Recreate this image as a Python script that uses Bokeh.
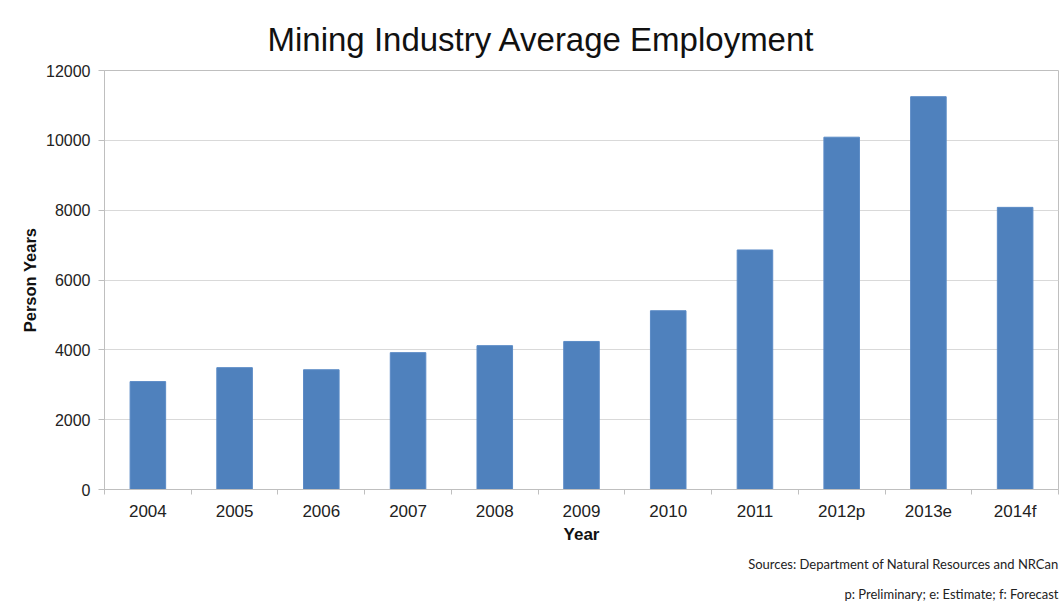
from bokeh.plotting import figure
from bokeh.models import Range1d, FixedTicker, ColumnDataSource, Title
from bokeh.embed import file_html
from bokeh.resources import INLINE

categories = ["2004", "2005", "2006", "2007", "2008", "2009", "2010", "2011", "2012p", "2013e", "2014f"]
employment = [3090, 3490, 3430, 3920, 4120, 4240, 5120, 6860, 10090, 11250, 8080]
y_ticks = [0, 2000, 4000, 6000, 8000, 10000, 12000]

title_text = "Mining Industry Average Employment"
source_note = "Sources: Department of Natural Resources and NRCan"
legend_note = "p: Preliminary; e: Estimate; f: Forecast"

n = len(categories)
centers = [i + 0.5 for i in range(n)]
src = ColumnDataSource(dict(x=centers, top=employment, cat=categories))

p = figure(width=1062, height=607, output_backend="svg", toolbar_location=None,
           x_range=Range1d(0, n), y_range=Range1d(0, 12000),
           min_border_left=104, min_border_right=4, min_border_top=70, min_border_bottom=117,
           title=title_text)

p.title.text_font = "Liberation Sans"
p.title.text_font_size = "33px"
p.title.text_font_style = "normal"
p.title.text_color = "#111111"
p.title.align = "left"
p.title.offset = 163
p.title.standoff = 26

p.vbar(x="x", top="top", width=0.41, source=src, fill_color="#4F81BD", line_color="#5B8BC6", line_width=1)

# x axis
xa = p.xaxis[0]
xa.ticker = FixedTicker(ticks=centers, minor_ticks=list(range(n + 1)))
xa.major_label_overrides = {c: lab for c, lab in zip(centers, categories)}
xa.major_tick_line_color = None
xa.major_tick_out = 0
xa.major_tick_in = 0
xa.minor_tick_line_color = "#bfbfbf"
xa.minor_tick_out = 5
xa.minor_tick_in = 0
xa.axis_line_color = "#bfbfbf"
xa.major_label_text_font = "Liberation Sans"
xa.major_label_text_font_size = "17px"
xa.major_label_text_color = "#222222"
xa.major_label_standoff = 7
xa.axis_label = "Year"
xa.axis_label_text_font = "Liberation Sans"
xa.axis_label_text_font_size = "17px"
xa.axis_label_text_font_style = "bold"
xa.axis_label_text_color = "#111111"
xa.axis_label_standoff = 1

# y axis
ya = p.yaxis[0]
ya.ticker = FixedTicker(ticks=y_ticks)
ya.minor_tick_line_color = None
ya.major_tick_line_color = "#bfbfbf"
ya.major_tick_out = 6
ya.major_tick_in = 0
ya.axis_line_color = "#bfbfbf"
ya.major_label_text_font = "Liberation Sans"
ya.major_label_text_font_size = "16px"
ya.major_label_text_color = "#222222"
ya.major_label_standoff = 8
ya.axis_label = "Person Years"
ya.axis_label_text_font = "Liberation Sans"
ya.axis_label_text_font_size = "16.5px"
ya.axis_label_text_font_style = "bold"
ya.axis_label_text_color = "#111111"
ya.axis_label_standoff = 4

p.xgrid.grid_line_color = None
p.ygrid.grid_line_color = "#d9d9d9"
p.ygrid.ticker = FixedTicker(ticks=y_ticks)
p.outline_line_color = "#bfbfbf"
p.background_fill_color = "white"
p.border_fill_color = "white"

p.add_layout(Title(text=source_note, align="right", offset=0, standoff=14,
                   text_font="Lato", text_font_size="13px", text_font_style="normal",
                   text_color="#222222"), "below")
p.add_layout(Title(text=legend_note, align="right", offset=0, standoff=11,
                   text_font="Lato", text_font_size="13px", text_font_style="normal",
                   text_color="#222222"), "below")

open("out.html", "w").write(file_html(p, INLINE))
